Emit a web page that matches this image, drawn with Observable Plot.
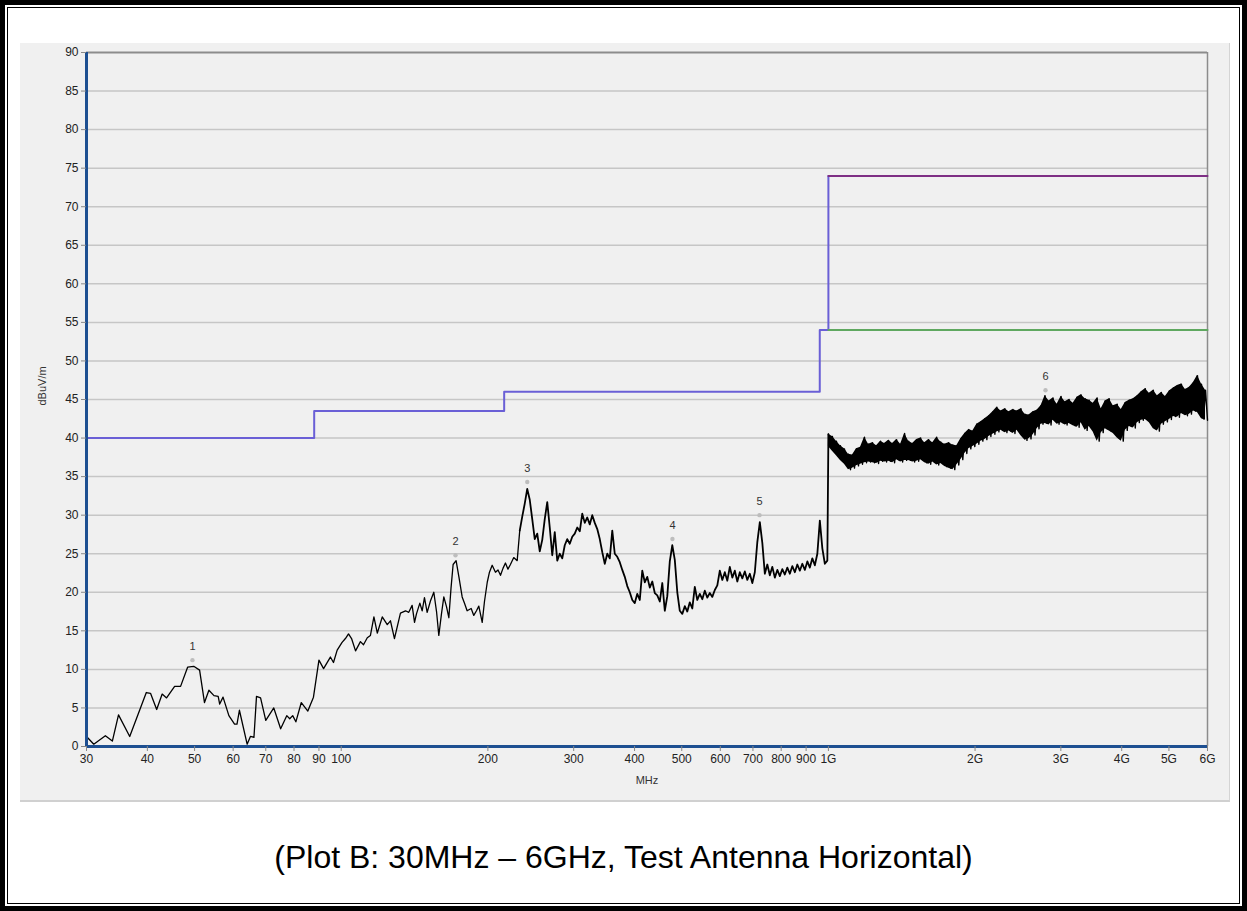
<!DOCTYPE html>
<html><head><meta charset="utf-8">
<script src="https://cdn.jsdelivr.net/npm/d3@7"></script>
<script src="https://cdn.jsdelivr.net/npm/@observablehq/plot@0.6"></script>
<style>
html,body{margin:0;padding:0;background:#fff;}
#page{position:relative;width:1247px;height:911px;overflow:hidden;background:#fff;}
#outer{position:absolute;left:0;top:0;width:1247px;height:911px;box-sizing:border-box;border:5px solid #000;}
#inner{position:absolute;left:7px;top:7px;right:7px;bottom:7px;border:1px solid #000;}
#panel{position:absolute;left:20px;top:43px;width:1210px;height:759px;background:#f0f0f0;box-sizing:border-box;border-right:1px solid #d4d4d4;border-bottom:2px solid #d0d0d0;}
#chart{position:absolute;left:0;top:0;}
#caption{position:absolute;left:0;width:1247px;top:839px;text-align:center;font-family:"Liberation Sans",Arial,sans-serif;font-size:32px;color:#000;white-space:nowrap;}
</style></head>
<body>
<div id="page">
  <div id="outer"></div>
  <div id="inner"></div>
  <div id="panel"></div>
  <div id="chart"></div>
  <div id="caption">(Plot B: 30MHz – 6GHz, Test Antenna Horizontal)</div>
</div>
<script>
// ---- axis ticks ----
const xTicks = [30,40,50,60,70,80,90,100,200,300,400,500,600,700,800,900,1000,2000,3000,4000,5000,6000];
const xTickLabels = ["30","40","50","60","70","80","90","100","200","300","400","500","600","700","800","900","1G","2G","3G","4G","5G","6G"];
const yTicks = [0,5,10,15,20,25,30,35,40,45,50,55,60,65,70,75,80,85,90];
const gridLevels = [5,10,15,20,25,30,35,40,45,50,55,60,65,70,75,80,85];

// ---- limit lines (MHz, dBuV/m) ----
const limitFreq = [30, 88, 216, 960, 1000];
const limitLevel = [40, 43.5, 46, 54, 74];
const avgLimitFreq = [1000, 6000];
const avgLimitLevel = [54, 54];
const peakLimitFreq = [1000, 6000];
const peakLimitLevel = [74, 74];

// ---- measured trace 30 - 230 MHz (MHz, dBuV/m) ----
const lowFreq = [30,31.05,32.8,33.9,34.9,36.8,39.8,40.6,41.8,42.9,43.8,45.5,46.8,48.4,49.8,51.2,52.4,53.5,54.8,55.9,56.3,57.2,58.8,60.4,61.1,61.8,64.1,65.1,66.2,67.0,68.3,70.0,72.7,75.1,77.3,78.4,79.5,80.7,82.8,85.4,87.7,
  90.0,92.0,95.0,96.4,98.1,100.4,102.0,103.5,105.0,107.0,109.5,111.1,113.1,114.8,116.7,118.6,121.4,124.3,126.2,128.6,132.3,135.5,137.6,139.8,141.4,142.7,145.0,146.6,148.2,150.1,152.5,154.9,156.9,158.6,160.6,162.4,164.5,166.3,168.0,169.7,172.1,174.4,177.1,179.0,181.3,184.8,187.1,189.5,191.6,194.7,196.8,199.4,201.5,204.1,207.3,209.8,212.3,214.8,217.3,219.9,222.5,226.0,229.7];
const lowLevel = [1.3,0.3,1.4,0.7,4.1,1.3,7.0,6.9,4.8,6.8,6.3,7.8,7.8,10.3,10.4,9.9,5.7,7.3,6.6,6.5,5.5,6.4,4.0,2.9,2.9,4.7,0.3,1.3,1.2,6.5,6.3,3.4,5.0,2.3,4.0,3.6,4.0,3.2,5.7,4.6,6.4,
  11.2,10.1,11.6,10.9,12.5,13.5,14.0,14.6,14.0,12.4,13.6,13.2,14.1,14.4,16.8,14.7,16.8,15.8,16.3,14.0,17.3,17.6,17.4,18.3,16.1,17.2,18.6,17.6,19.3,17.4,18.9,20.0,17.5,14.4,17.2,19.4,18.1,16.7,20.5,23.6,24.1,22.0,19.4,18.6,17.6,17.9,17.0,17.6,18.2,16.1,18.8,21.3,22.6,23.5,22.6,22.9,22.2,23.1,23.8,23.0,23.6,24.5,24.1];

// ---- measured sweep 232.5 - 995 MHz (levels, dBuV/m) ----
const midStart = 232.5, midEnd = 995;
const midLevel = [28.0,29.8,31.5,33.4,32.0,29.5,26.9,27.6,25.3,26.8,29.5,31.7,28.4,24.8,27.8,24.1,25.0,24.4,26.1,26.9,
  26.3,27.2,27.6,28.4,27.9,30.2,29.0,29.7,28.8,30.0,29.0,28.2,26.9,25.2,23.7,25.0,24.4,28.0,25.0,24.6,
  23.9,22.9,22.0,20.8,20.0,19.0,18.6,19.8,19.0,22.8,21.3,22.0,20.6,21.4,19.9,19.6,18.8,21.2,17.6,19.5,
  24.0,26.1,24.2,20.0,17.6,17.2,18.2,17.5,18.7,17.9,20.7,19.0,19.8,19.1,20.2,19.3,19.9,19.4,20.3,20.9,
  22.8,21.6,22.6,21.5,23.3,21.9,22.8,21.4,22.6,21.8,22.7,21.6,22.4,21.2,22.6,26.5,29.1,26.4,22.4,23.6,
  22.2,23.3,21.9,22.9,22.1,23.0,22.3,23.2,22.4,23.4,22.6,23.6,22.8,23.7,22.9,24.0,23.2,24.4,23.5,25.0,
  29.3,25.7,23.7,24.1];

// ---- measured sweep 1 - 6 GHz (levels, dBuV/m; alternating max/min samples) ----
const highStart = 1000, highEnd = 6000;
const highLevel = [40.5,38.9,40.2,38.3,39.6,37.7,39.0,37.1,38.6,36.6,
  37.9,35.9,37.8,36.1,38.6,36.4,38.8,36.6,40.1,36.8,
  39.2,36.9,39.4,36.8,39.0,36.7,39.6,37.0,39.3,36.9,
  39.7,37.0,39.3,36.8,39.8,37.2,39.2,36.9,40.6,37.1,
  39.6,37.1,39.3,36.9,39.8,37.0,40.0,37.2,39.4,36.8,
  39.8,36.6,39.4,36.9,40.1,36.5,39.5,36.7,39.2,36.3,
  39.4,36.1,39.1,35.9,39.0,36.5,39.9,37.2,40.6,38.0,
  41.1,38.6,40.9,38.9,41.8,39.2,42.1,39.6,42.5,39.8,
  42.9,40.2,43.4,40.5,44.0,40.8,43.5,41.0,43.8,40.7,
  43.4,40.9,43.7,40.6,43.5,41.0,43.8,40.3,43.1,39.7,
  43.0,39.9,43.4,40.4,43.6,41.2,44.2,41.8,45.5,41.9,
  44.8,41.7,45.2,42.3,44.4,41.8,45.4,42.0,44.7,41.7,
  45.0,41.9,44.5,41.6,45.3,41.4,45.6,42.0,45.1,41.0,
  44.9,41.5,44.5,40.8,45.2,39.6,43.8,40.7,44.8,41.2,
  45.1,40.9,44.2,40.6,44.4,40.0,43.7,39.6,44.6,41.0,
  44.9,41.5,45.1,41.3,45.5,42.0,46.0,42.3,46.4,42.4,
  45.8,42.0,46.2,41.2,45.5,40.9,45.9,41.8,45.4,42.1,
  46.1,42.4,46.5,42.8,46.8,42.7,47.0,43.2,46.3,42.9,
  46.6,43.1,47.2,43.5,48.1,43.3,47.0,42.5,46.2,42.3];

// ---- peak markers ----
const peakLabel = ["1","2","3","4","5","6"];
const peakFreq = [49.5, 171.6, 240.9, 478.5, 722, 2790];
const peakLevel = [11.2, 24.8, 34.3, 26.9, 30.0, 46.2];

// ---- build tables ----
const lowPts = lowFreq.map((f, i) => ({f, v: lowLevel[i]}));
const midPts = midLevel.map((v, i) => ({f: midStart * Math.pow(midEnd / midStart, i / (midLevel.length - 1)), v}));
const highPts = highLevel.map((v, i) => ({f: highStart * Math.pow(highEnd / highStart, i / (highLevel.length - 1)), v}));
const lowTrace = lowPts.concat([midPts[0]]);
const midTrace = midPts.concat([highPts[0]]);
// band between successive max/min sample pairs
const band = [];
for (let i = 0; i + 1 < highPts.length; i += 2) {
  band.push({f: highPts[i].f, hi: Math.max(highPts[i].v, highPts[i + 1].v), lo: Math.min(highPts[i].v, highPts[i + 1].v)});
}
const limit = limitFreq.map((f, i) => ({f, v: limitLevel[i]}));
const avgLimit = avgLimitFreq.map((f, i) => ({f, v: avgLimitLevel[i]}));
const peakLimit = peakLimitFreq.map((f, i) => ({f, v: peakLimitLevel[i]}));
const peaks = peakLabel.map((t, i) => ({t, f: peakFreq[i], v: peakLevel[i]}));

const chart = Plot.plot({
  width: 1247, height: 820,
  marginLeft: 86, marginRight: 40, marginTop: 52, marginBottom: 74,
  style: {background: "transparent", fontFamily: "'Liberation Sans Narrow','Liberation Sans',Arial,sans-serif", fontSize: "12px", color: "#222"},
  x: {type: "log", domain: [30, 6000]},
  y: {domain: [0, 90]},
  marks: [
    Plot.ruleY(gridLevels, {stroke: "#c6c6c6", strokeWidth: 1.5}),
    Plot.ruleY([90], {stroke: "#8c8c8c", strokeWidth: 2}),
    Plot.ruleX([6000], {stroke: "#8c8c8c", strokeWidth: 1.5}),
    Plot.line(limit, {x: "f", y: "v", curve: "step-after", stroke: "#6a5fd6", strokeWidth: 2}),
    Plot.line(avgLimit, {x: "f", y: "v", stroke: "#5fa860", strokeWidth: 2}),
    Plot.line(peakLimit, {x: "f", y: "v", stroke: "#7e2f84", strokeWidth: 2}),
    Plot.areaY(band, {x: "f", y1: "lo", y2: "hi", fill: "#000"}),
    Plot.line(lowTrace, {x: "f", y: "v", stroke: "#000", strokeWidth: 1.3}),
    Plot.line(midTrace, {x: "f", y: "v", stroke: "#000", strokeWidth: 1.8}),
    Plot.line(highPts, {x: "f", y: "v", stroke: "#000", strokeWidth: 1.4}),
    Plot.ruleX([30], {stroke: "#1d4f91", strokeWidth: 3}),
    Plot.ruleY([0], {stroke: "#1d4f91", strokeWidth: 3}),
    Plot.axisY(yTicks, {tickSize: 5, tickPadding: 3, stroke: "#888", label: null}),
    Plot.axisX(xTicks, {tickSize: 5, stroke: "#888", label: null, text: null}),
    Plot.text(xTicks, {x: d => d, text: (d, i) => xTickLabels[i], frameAnchor: "bottom", dy: 16, fill: "#222"}),
    Plot.dot(peaks, {x: "f", y: "v", r: 2.2, fill: "#bdbdbd"}),
    Plot.text(peaks, {x: "f", y: "v", text: "t", dy: -14, fontSize: 11, fill: "#333"}),
    Plot.text(["MHz"], {frameAnchor: "bottom", dy: 37, fontSize: 11, fill: "#333"}),
    Plot.text(["dBuV/m"], {frameAnchor: "left", dx: -44, dy: 6, rotate: -90, fontSize: 11, fill: "#333"})
  ]
});
document.getElementById("chart").appendChild(chart);
</script>
</body></html>
